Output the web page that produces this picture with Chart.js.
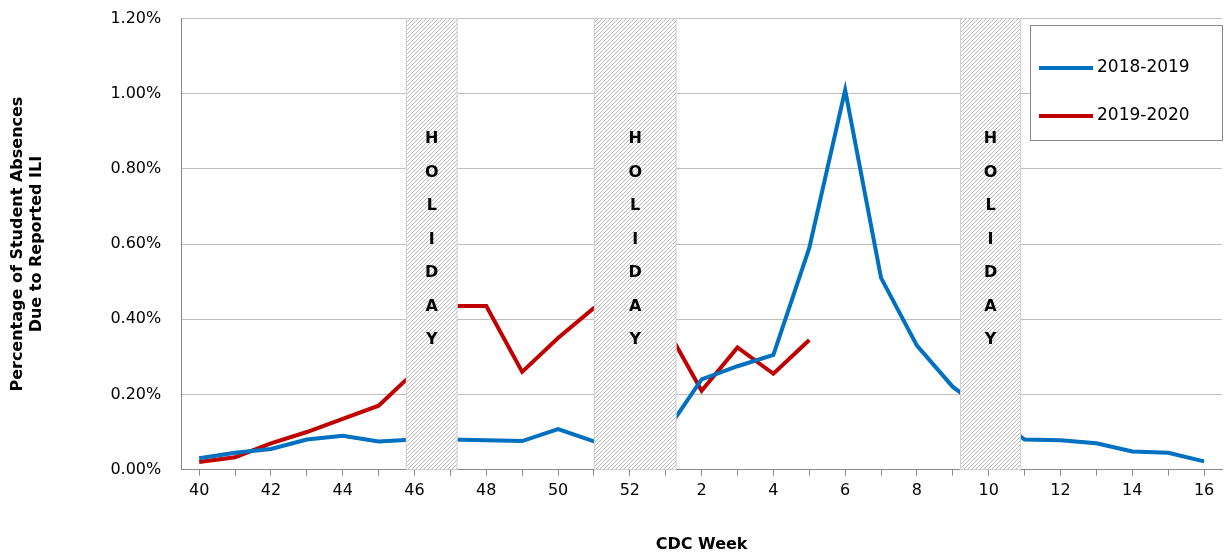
<!DOCTYPE html>
<html><head><meta charset="utf-8">
<script src="https://cdn.jsdelivr.net/npm/chart.js@4/dist/chart.umd.min.js"></script>
<style>body{margin:0;background:#fff;overflow:hidden}#w{width:1228px;height:569px;margin-top:-11px}</style>
</head><body><div id="w"><canvas id="c"></canvas></div>
<script>
const weeks = ["40","41","42","43","44","45","46","47","48","49","50","51","52","1","2","3","4","5","6","7","8","9","10","11","12","13","14","15","16"];
const s2018 = [0.03,0.045,0.055,0.08,0.09,0.075,0.08,0.08,0.078,0.076,0.108,0.075,0.06,0.10,0.24,0.275,0.305,0.59,1.01,0.51,0.33,0.22,0.15,0.08,0.078,0.07,0.048,0.045,0.022];
const s2019 = [0.02,0.033,0.07,0.1,0.135,0.17,0.26,0.435,0.435,0.26,0.35,0.43,0.44,0.38,0.21,0.325,0.255,0.345];
const holidays = [[5.76,7.2],[11,13.3],[21.2,22.9]];
const FONT = "'DejaVu Sans', Verdana, sans-serif";

const bandPlugin = {
  id:'bands',
  afterDatasetsDraw(ch){
    const {ctx, scales:{x,y}} = ch;
    const pc = document.createElement('canvas'); pc.width=4; pc.height=4;
    const p = pc.getContext('2d'); p.fillStyle='#fff'; p.fillRect(0,0,4,4);
    p.strokeStyle='#a8a8a8'; p.lineWidth=0.8;
    p.beginPath(); p.moveTo(0,4); p.lineTo(4,0); p.moveTo(-2,2); p.lineTo(2,-2); p.moveTo(2,6); p.lineTo(6,2); p.stroke();
    const pat = ctx.createPattern(pc,'repeat');
    ctx.save();
    holidays.forEach(([a,b])=>{
      const x0=x.getPixelForValue(a), x1=x.getPixelForValue(b);
      const top=y.getPixelForValue(1.2), bot=y.getPixelForValue(0);
      ctx.fillStyle=pat; ctx.fillRect(x0,top,x1-x0,bot-top);
      ctx.strokeStyle='#d0d0d0'; ctx.lineWidth=1; ctx.strokeRect(x0+0.5,top,x1-x0-1,bot-top);
      ctx.fillStyle='#000'; ctx.font='bold 16px '+FONT; ctx.textAlign='center'; ctx.textBaseline='middle';
      const cx=(x0+x1)/2;
      "HOLIDAY".split('').forEach((ch2,i)=>ctx.fillText(ch2,cx,y.getPixelForValue(0.88)+i*33.5));
    });
    const lx=1030, ly=36, lw=192, lh=115;
    ctx.fillStyle='#fff'; ctx.fillRect(lx,ly,lw,lh);
    ctx.strokeStyle='#888'; ctx.lineWidth=1; ctx.strokeRect(lx+0.5,ly+0.5,lw,lh);
    [['#0070c0','2018-2019',79],['#c00000','2019-2020',127]].forEach(([c,t,yy])=>{
      ctx.strokeStyle=c; ctx.lineWidth=4; ctx.beginPath(); ctx.moveTo(1039,yy); ctx.lineTo(1093,yy); ctx.stroke();
      ctx.fillStyle='#000'; ctx.font='17px '+FONT; ctx.textAlign='left'; ctx.textBaseline='middle';
      ctx.fillText(t,1097,yy);
    });
    ctx.restore();
  }
};

new Chart(document.getElementById('c'),{
  type:'line',
  data:{labels:weeks,datasets:[
    {label:'2018-2019',data:s2018,borderColor:'#0070c0',borderWidth:4,pointRadius:0,tension:0},
    {label:'2019-2020',data:s2019,borderColor:'#c00000',borderWidth:4,pointRadius:0,tension:0}
  ]},
  options:{responsive:true,maintainAspectRatio:false,animation:false,
    layout:{padding:{top:0,right:6,left:4,bottom:0}},
    plugins:{legend:{display:false},tooltip:{enabled:false}},
    scales:{
      x:{offset:true,grid:{display:true,drawOnChartArea:false,tickLength:6,color:'#888'},border:{color:'#888'},
        ticks:{autoSkip:false,maxRotation:0,color:'#000',font:{family:FONT,size:16},padding:6,
          callback:(v,i)=> i%2===0?weeks[i]:''},
        title:{display:true,text:'CDC Week',color:'#000',font:{family:FONT,size:16,weight:'bold'},padding:{top:28}}},
      y:{min:0,max:1.2,grid:{color:'#bfbfbf',drawTicks:false},border:{color:'#888'},
        ticks:{stepSize:0.2,color:'#000',font:{family:FONT,size:16},padding:20,callback:v=>v.toFixed(2)+'%'},
        title:{display:true,text:['Percentage of Student Absences','Due to Reported ILI'],color:'#000',font:{family:FONT,size:16,weight:'bold'},padding:{bottom:44}}}
    }
  },
  plugins:[bandPlugin]
});
</script></body></html>
